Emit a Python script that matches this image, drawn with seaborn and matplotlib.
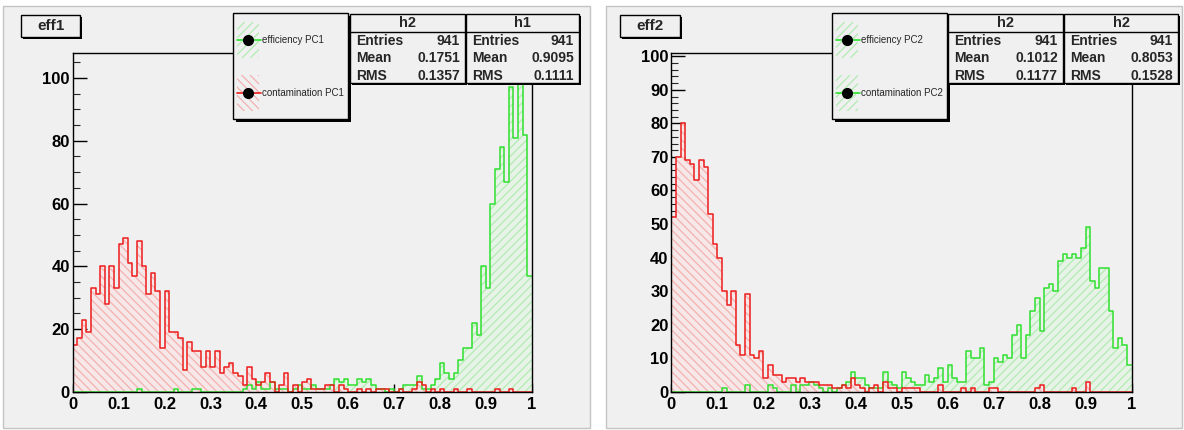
import numpy as np
import pandas as pd
import matplotlib
matplotlib.use("Agg")
import matplotlib.pyplot as plt
import seaborn as sns
from matplotlib.patches import Rectangle
from matplotlib.lines import Line2D
from matplotlib.ticker import MultipleLocator

# ---------------- data (bin counts, 100 bins on [0, 1]) ----------------
N_BINS = 100
X_RANGE = (0.0, 1.0)

eff1_efficiency = [  # green, "efficiency PC1"  (h1)
    0, 0, 0, 0, 0, 0, 0, 0, 0, 0,
    0, 0, 0, 0, 1, 0, 0, 0, 0, 0,
    0, 0, 1, 0, 0, 0, 1, 1, 0, 0,
    0, 0, 0, 0, 0, 0, 0, 1, 2, 1,
    3, 1, 1, 3, 1, 1, 1, 0, 1, 2,
    1, 1, 2, 1, 1, 1, 2, 4, 3, 4,
    2, 2, 4, 3, 4, 2, 1, 1, 0, 1,
    0, 1, 2, 2, 2, 5, 1, 1, 2, 4,
    9, 6, 4, 6, 10, 14, 14, 22, 18, 40,
    33, 60, 71, 78, 67, 97, 81, 104, 82, 37,
]
eff1_contamination = [  # red, "contamination PC1"  (h2)
    15, 17, 23, 19, 33, 31, 40, 28, 40, 33,
    47, 49, 41, 37, 48, 40, 31, 38, 32, 14,
    32, 19, 19, 17, 7, 16, 13, 13, 8, 13,
    8, 13, 6, 8, 9, 6, 5, 2, 8, 4,
    2, 3, 6, 3, 0, 2, 6, 0, 2, 0,
    3, 4, 1, 1, 1, 2, 2, 0, 2, 1,
    0, 0, 1, 0, 1, 0, 1, 1, 1, 0,
    0, 1, 0, 0, 1, 3, 2, 0, 1, 0,
    1, 0, 0, 1, 0, 0, 1, 0, 0, 0,
    0, 0, 1, 0, 0, 1, 0, 0, 0, 0,
]
eff2_efficiency = [  # green, "efficiency PC2"
    0, 0, 0, 0, 0, 0, 0, 0, 0, 0,
    0, 1, 0, 0, 0, 0, 2, 0, 0, 0,
    0, 2, 1, 0, 0, 0, 2, 0, 2, 2,
    3, 2, 1, 0, 1, 0, 1, 2, 3, 6,
    4, 4, 2, 1, 1, 1, 6, 3, 2, 1,
    6, 4, 3, 2, 2, 5, 3, 4, 7, 3,
    8, 4, 3, 3, 12, 10, 10, 13, 2, 3,
    10, 9, 11, 10, 17, 20, 10, 17, 24, 28,
    18, 31, 32, 30, 39, 41, 40, 41, 40, 43,
    49, 33, 31, 37, 37, 24, 13, 16, 14, 8,
]
eff2_contamination = [  # red, "contamination PC2"
    52, 70, 80, 69, 68, 63, 69, 67, 53, 44,
    40, 30, 26, 30, 14, 11, 29, 11, 10, 12,
    4, 8, 5, 5, 3, 4, 4, 3, 4, 3,
    3, 3, 2, 2, 2, 1, 1, 2, 1, 4,
    2, 1, 0, 1, 2, 0, 3, 1, 1, 0,
    1, 1, 1, 1, 0, 0, 0, 0, 2, 0,
    0, 0, 0, 1, 0, 1, 0, 0, 0, 1,
    1, 0, 0, 0, 0, 0, 0, 0, 0, 1,
    2, 0, 0, 0, 0, 0, 0, 1, 0, 0,
    3, 0, 0, 0, 0, 0, 0, 0, 0, 0,
]

x_tick_values = [0.0, 0.1, 0.2, 0.3, 0.4, 0.5, 0.6, 0.7, 0.8, 0.9, 1.0]
x_tick_labels = ["0", "0.1", "0.2", "0.3", "0.4", "0.5", "0.6", "0.7", "0.8", "0.9", "1"]

pad_titles = ["eff1", "eff2"]
legend_labels_1 = ["efficiency PC1", "contamination PC1"]
legend_labels_2 = ["efficiency PC2", "contamination PC2"]
stat_names_1 = ["h2", "h1"]
stat_names_2 = ["h2", "h2"]
stat_rows = ["Entries", "Mean", "RMS"]
stat_values_1 = [["941", "0.1751", "0.1357"], ["941", "0.9095", "0.1111"]]
stat_values_2 = [["941", "0.1012", "0.1177"], ["941", "0.8053", "0.1528"]]

# ---------------- style ----------------
W, H = 1184, 430
PAD_GRAY = "#f0f0f0"
RED_LINE = "#ee1c1c"
GREEN_LINE = "#2fe02f"
RED_HATCH = "#f4b0b0"
GREEN_HATCH = "#b2ebb2"
RED_FACE = "#f6e8e8"
GREEN_FACE = "#e8f3e8"
GREEN_PAT = "////"
RED_PAT = "\\\\\\\\"

sns.set_theme(style="white")
plt.rcParams["font.family"] = ["Liberation Sans", "DejaVu Sans"]
plt.rcParams["hatch.linewidth"] = 0.9

fig = plt.figure(figsize=(W / 100, H / 100), dpi=100, facecolor="white")


def fx(x):
    return x / W


def fy(y):
    return 1 - y / H


def rect_px(x0, y0, x1, y1, **kw):
    r = Rectangle((fx(x0), fy(y1)), (x1 - x0) / W, (y1 - y0) / H,
                  transform=fig.transFigure, **kw)
    fig.add_artist(r)
    return r


def text_px(x, y, s, **kw):
    fig.text(fx(x), fy(y), s, **kw)


# pads
rect_px(3, 6, 590, 428, facecolor=PAD_GRAY, edgecolor="#c4c4c4", lw=1, zorder=-5)
rect_px(606, 6, 1182, 428, facecolor=PAD_GRAY, edgecolor="#c4c4c4", lw=1, zorder=-5)

centers = np.arange(N_BINS) / N_BINS + 0.5 / N_BINS


def draw_hist(ax, counts, line, hatch_col, face, hatch):
    df = pd.DataFrame({"x": centers, "w": counts})
    n0 = len(ax.collections)
    sns.histplot(data=df, x="x", weights="w", bins=N_BINS, binrange=X_RANGE,
                 element="step", fill=True, color=face, alpha=1, linewidth=0, ax=ax)
    poly = ax.collections[n0]
    poly.set_facecolor(face)
    poly.set_edgecolor(hatch_col)
    poly.set_linewidth(0)
    poly.set_hatch(hatch)
    sns.histplot(data=df, x="x", weights="w", bins=N_BINS, binrange=X_RANGE,
                 element="step", fill=False, color=line, linewidth=1.1, ax=ax)


def finish_axes(ax, ymax, ymajor, yminor):
    ax.set_xlim(*X_RANGE)
    ax.set_ylim(0, ymax)
    ax.set_xlabel("")
    ax.set_ylabel("")
    ax.set_xticks(x_tick_values)
    ax.set_xticklabels(x_tick_labels)
    ax.xaxis.set_minor_locator(MultipleLocator(0.02))
    ax.yaxis.set_major_locator(MultipleLocator(ymajor))
    ax.yaxis.set_minor_locator(MultipleLocator(yminor))
    ax.tick_params(axis="x", which="major", direction="in", length=6, width=1,
                   pad=4, labelsize=12, colors="black", bottom=True, top=False)
    ax.tick_params(axis="x", which="minor", direction="in", length=3, width=0.8,
                   bottom=True, top=False)
    ax.tick_params(axis="y", which="major", direction="in", length=10, width=1,
                   pad=2, labelsize=12, colors="black", left=True, right=False)
    ax.tick_params(axis="y", which="minor", direction="in", length=5, width=0.8,
                   left=True, right=False)
    for lab in ax.get_xticklabels() + ax.get_yticklabels():
        lab.set_fontweight("bold")
    for sp in ax.spines.values():
        sp.set_color("black")
        sp.set_linewidth(1.0)
        sp.set_visible(True)


def shadow_box(x0, y0, x1, y1, off=3):
    rect_px(x0 + off, y0 + off, x1 + off, y1 + off, facecolor="black",
            edgecolor="none", zorder=9)
    rect_px(x0, y0, x1, y1, facecolor=PAD_GRAY, edgecolor="black", lw=1.0, zorder=10)


def stat_box(x0, x1, name, values):
    y0, y1 = 14, 83
    shadow_box(x0, y0, x1, y1, off=2)
    fig.add_artist(Line2D([fx(x0), fx(x1)], [fy(31.5), fy(31.5)],
                          transform=fig.transFigure, color="black", lw=1.0, zorder=11))
    text_px((x0 + x1) / 2, 23, name, ha="center", va="center", fontsize=10.5,
            fontweight="bold", zorder=12)
    for i, (row, val) in enumerate(zip(stat_rows, values)):
        yy = 41 + 17.5 * i
        text_px(x0 + 6, yy, row, ha="left", va="center", fontsize=10,
                fontweight="bold", zorder=12)
        text_px(x1 - 5, yy, val, ha="right", va="center", fontsize=10,
                fontweight="bold", zorder=12)


def legend_box(x0, labels, colors_line, colors_hatch, hatches):
    y0, y1 = 13, 119
    x1 = x0 + 115
    shadow_box(x0, y0, x1, y1, off=3)
    ycent = [40, 93]
    for yc, lab, lc, hc, ht in zip(ycent, labels, colors_line, colors_hatch, hatches):
        rect_px(x0 + 4, yc - 18, x0 + 26, yc + 18, facecolor="none",
                edgecolor=hc, lw=0, hatch=ht, zorder=11)
        fig.add_artist(Line2D([fx(x0 + 4), fx(x0 + 28)], [fy(yc), fy(yc)],
                              transform=fig.transFigure, color=lc, lw=1.2, zorder=12))
        fig.add_artist(Line2D([fx(x0 + 15)], [fy(yc)], transform=fig.transFigure,
                              marker="o", markersize=7, color="black", zorder=13))
        text_px(x0 + 29, yc, lab, ha="left", va="center", fontsize=7,
                zorder=12)


def title_box(x0, x1, s):
    shadow_box(x0, 15, x1, 37, off=2)
    text_px((x0 + x1) / 2, 26, s, ha="center", va="center", fontsize=11,
            fontweight="bold", zorder=12)


# ---------------- left pad ----------------
ax1 = fig.add_axes([fx(72.7), 1 - 391.7 / H, 459 / W, (391.7 - 53) / H])
ax1.set_facecolor(PAD_GRAY)
draw_hist(ax1, eff1_efficiency, GREEN_LINE, GREEN_HATCH, GREEN_FACE, GREEN_PAT)
draw_hist(ax1, eff1_contamination, RED_LINE, RED_HATCH, RED_FACE, RED_PAT)
finish_axes(ax1, 108, 20, 5)

# ---------------- right pad ----------------
ax2 = fig.add_axes([fx(671.3), 1 - 391.7 / H, 460.4 / W, (391.7 - 53) / H])
ax2.set_facecolor(PAD_GRAY)
draw_hist(ax2, eff2_efficiency, GREEN_LINE, GREEN_HATCH, GREEN_FACE, GREEN_PAT)
draw_hist(ax2, eff2_contamination, RED_LINE, RED_HATCH, RED_FACE, RED_PAT)
finish_axes(ax2, 101, 10, 2)

# ---------------- annotations ----------------
title_box(21, 80, pad_titles[0])
title_box(620, 680, pad_titles[1])

legend_box(233, legend_labels_1, [GREEN_LINE, RED_LINE], [GREEN_HATCH, RED_HATCH], [GREEN_PAT, RED_PAT])
legend_box(832, legend_labels_2, [GREEN_LINE, GREEN_LINE], [GREEN_HATCH, GREEN_HATCH], [GREEN_PAT, GREEN_PAT])

stat_box(350, 465, stat_names_1[0], stat_values_1[0])
stat_box(466, 579, stat_names_1[1], stat_values_1[1])
stat_box(948, 1063, stat_names_2[0], stat_values_2[0])
stat_box(1064, 1178, stat_names_2[1], stat_values_2[1])

fig.savefig("out.png", dpi=100, facecolor="white")
